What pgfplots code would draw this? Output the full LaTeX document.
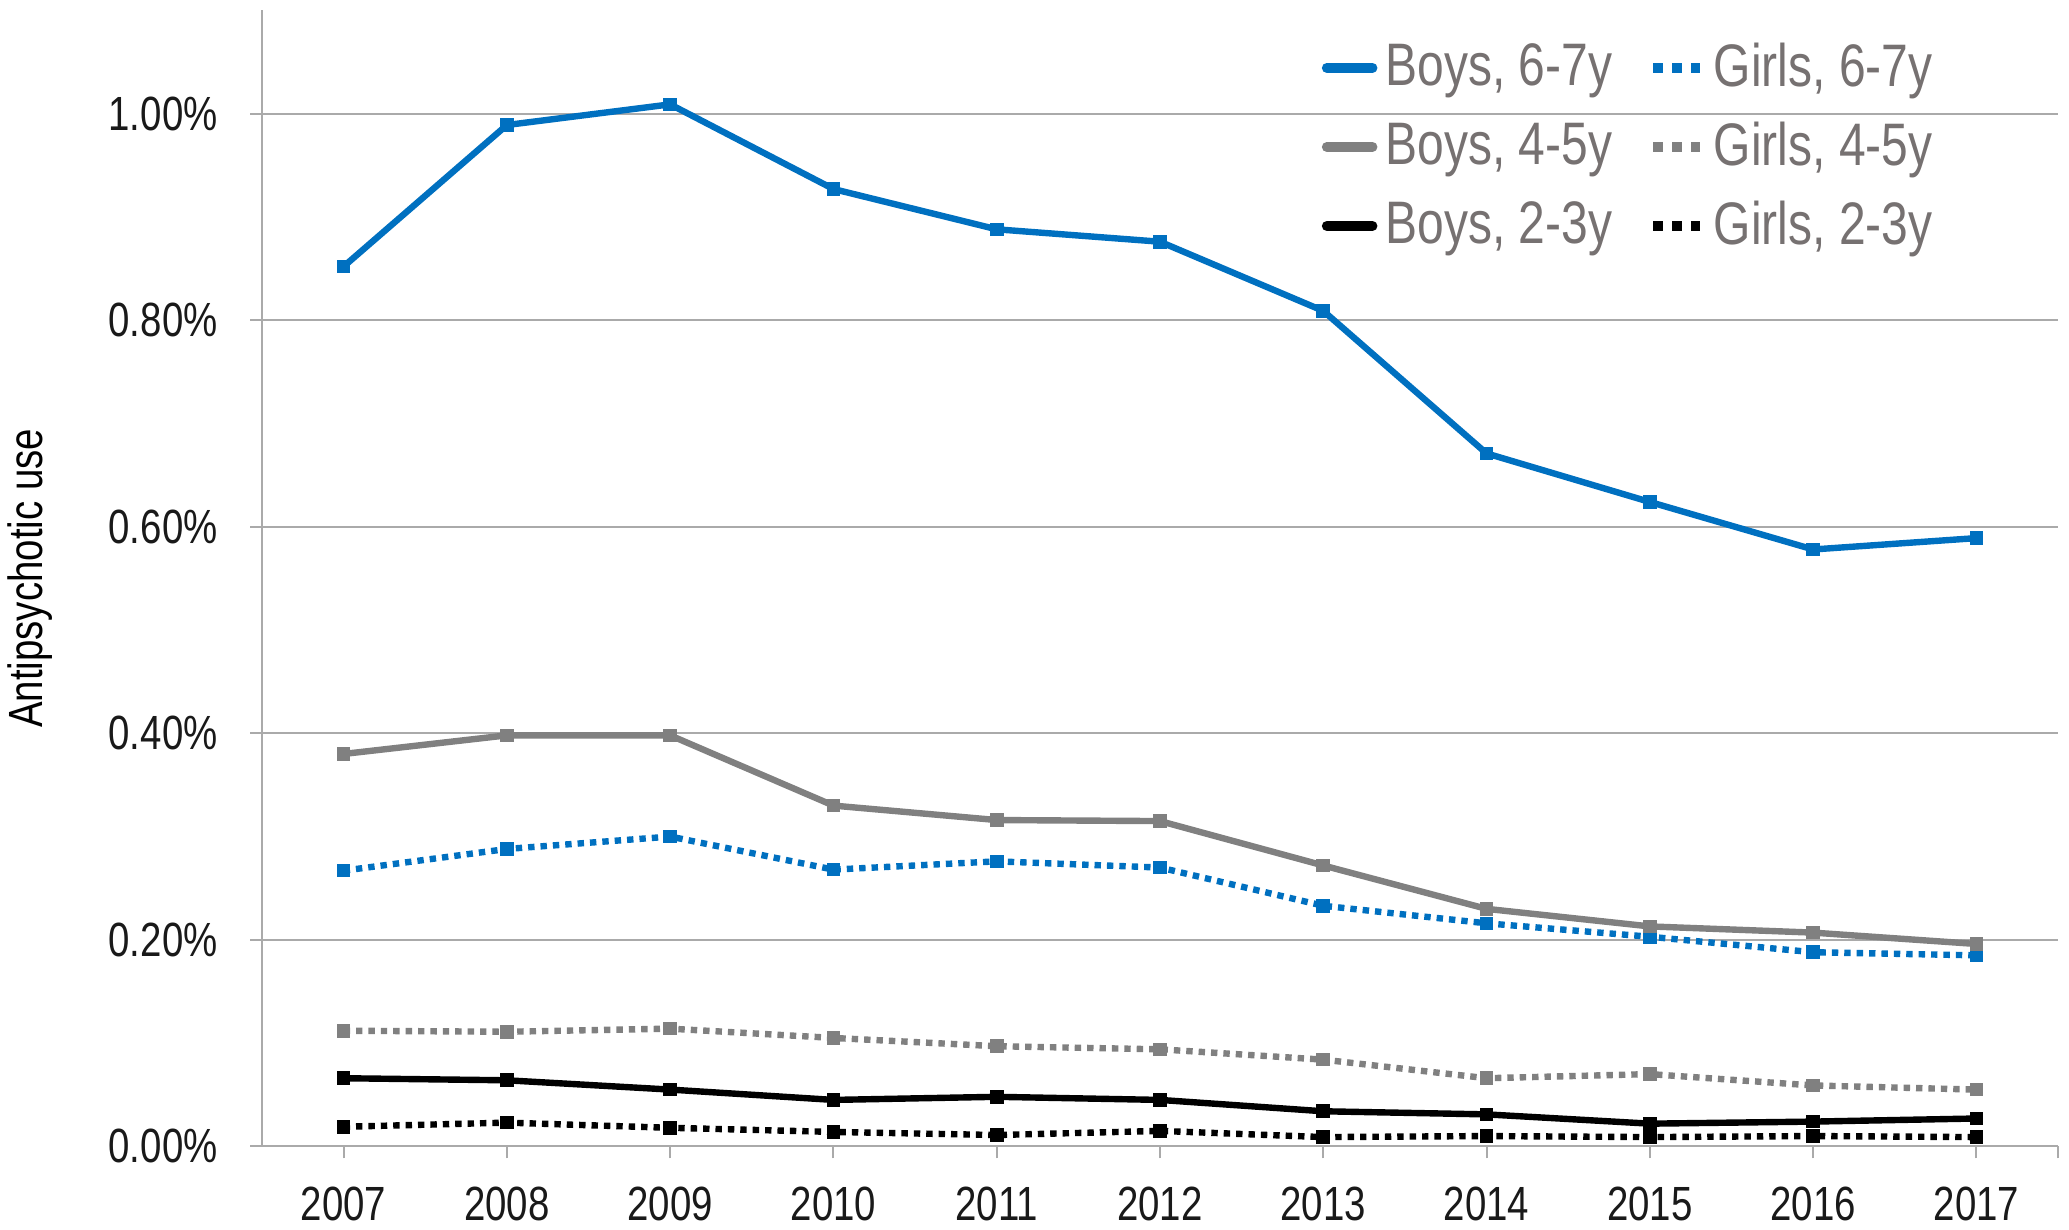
\documentclass[border=0pt]{standalone}
\usepackage{fontspec}
\setmainfont{Liberation Sans}[FakeStretch=0.8]
\usepackage{pgfplots}
\usepackage{pgfplotstable}
\pgfplotsset{compat=1.18}
\definecolor{cblue}{RGB}{0,112,192}
\definecolor{cgray}{RGB}{128,128,128}
\definecolor{cgrid}{RGB}{170,170,170}
\definecolor{ctext}{RGB}{118,113,113}
\pgfplotstableread{
year B67 G67 B45 G45 B23 G23
2007 0.852 0.267 0.380 0.112 0.066 0.019
2008 0.989 0.288 0.398 0.111 0.064 0.023
2009 1.009 0.300 0.398 0.114 0.055 0.018
2010 0.927 0.268 0.330 0.105 0.045 0.014
2011 0.888 0.276 0.316 0.097 0.048 0.011
2012 0.876 0.270 0.315 0.094 0.045 0.015
2013 0.809 0.233 0.272 0.084 0.034 0.009
2014 0.671 0.216 0.230 0.066 0.031 0.010
2015 0.624 0.203 0.213 0.070 0.022 0.009
2016 0.578 0.188 0.207 0.059 0.024 0.010
2017 0.589 0.185 0.196 0.055 0.027 0.009
}\datatable
\pgfplotsset{
  solidleg/.style={legend image code/.code={\draw[##1, mark=none, solid, line width=2.5pt, line cap=round] (1.2pt,0pt) -- (12.6pt,0pt);}},
  dotleg/.style={legend image code/.code={\draw[##1, mark=none, line width=2.5pt, line cap=butt, dash pattern=on 2.4pt off 2.3pt] (0pt,0pt) -- (11.9pt,0pt);}},
  dotline/.style={dash pattern=on 1.6pt off 1.5pt},
}
\begin{document}
\begin{tikzpicture}
\useasboundingbox (-65.5pt,-20.75pt) rectangle (451.75pt,286.6pt);
\begin{axis}[
  at={(0,0)}, anchor=south west,
  scale only axis, width=449pt, height=284pt,
  xmin=2006.5, xmax=2017.5, ymin=0, ymax=1.1,
  axis lines*=left,
  axis line style={draw=cgrid, line width=0.5pt, -},
  xtick={2007,2008,...,2017},
  extra x ticks={2017.5}, extra x tick labels={},
  extra x tick style={grid=none},
  ytick={0,0.2,0.4,0.6,0.8,1.0},
  ymajorgrids, grid style={draw=cgrid, line width=0.5pt},
  tick align=outside, major tick length=3pt,
  tick style={draw=cgrid, line width=0.5pt},
  /pgf/number format/assume math mode=true,
  /pgf/number format/1000 sep={},
  yticklabel={\pgfmathprintnumber[fixed,fixed zerofill,precision=2]{\tick}\%},
  ticklabel style={font=\fontsize{12}{14}\selectfont, text=black!90},
  xticklabel style={yshift=-3.6pt},
  yticklabel style={xshift=-4.6pt},
  ylabel={Antipsychotic use},
  ylabel style={at={(axis description cs:-0.129,0.5)}, anchor=center, font=\fontsize{12}{14}\selectfont},
  legend columns=2,
  legend style={at={(axis description cs:0.583,0.986)}, anchor=north west,
    draw=none, fill=none, font=\fontsize{15}{17}\selectfont, text=ctext,
    /tikz/every even column/.append style={column sep=7pt},
    row sep=3.4pt},
  every axis plot/.append style={line width=1.6pt, mark=square*, mark size=1.5pt},
]
\addplot[cblue, solidleg, mark options={solid, line width=0.4pt}] table[x=year,y=B67]{\datatable};
\addlegendentry{Boys, 6-7y}
\addplot[cblue, dotline, dotleg, mark options={solid, line width=0.4pt}] table[x=year,y=G67]{\datatable};
\addlegendentry{Girls, 6-7y}
\addplot[cgray, solidleg, mark options={solid, line width=0.4pt}] table[x=year,y=B45]{\datatable};
\addlegendentry{Boys, 4-5y}
\addplot[cgray, dotline, dotleg, mark options={solid, line width=0.4pt}] table[x=year,y=G45]{\datatable};
\addlegendentry{Girls, 4-5y}
\addplot[black, solidleg, mark options={solid, line width=0.4pt}] table[x=year,y=B23]{\datatable};
\addlegendentry{Boys, 2-3y}
\addplot[black, dotline, dotleg, mark options={solid, line width=0.4pt}] table[x=year,y=G23]{\datatable};
\addlegendentry{Girls, 2-3y}
\end{axis}
\end{tikzpicture}
\end{document}
